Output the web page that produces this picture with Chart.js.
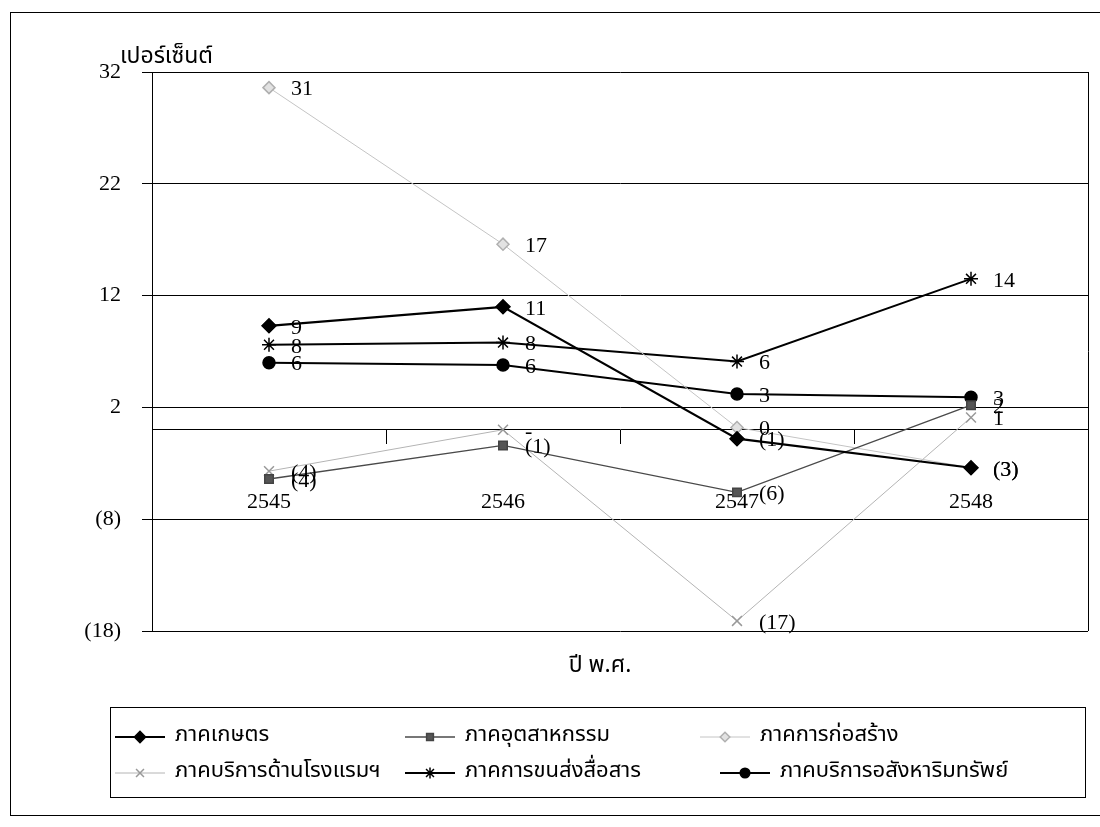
<!DOCTYPE html>
<html>
<head>
<meta charset="utf-8">
<script src="https://cdn.jsdelivr.net/npm/chart.js@4.4.0/dist/chart.umd.min.js"></script>
<style>
  html, body { margin: 0; padding: 0; background: #fff; }
  #wrap { width: 1100px; height: 827px; position: relative; }
</style>
</head>
<body>
<div id="wrap"><canvas id="growthChart" width="1100" height="827"></canvas></div>
<script>
// data
const years = ["2545", "2546", "2547", "2548"];
const agriculture = [9.3, 11.0, -0.8, -3.4];
const industry = [-4.4, -1.4, -5.6, 2.2];
const construction = [30.6, 16.6, 0.2, -3.4];
const hotels = [-3.7, 0, -17.1, 1.1];
const transport = [7.6, 7.8, 6.1, 13.5];
const realEstate = [6.0, 5.8, 3.2, 2.9];
const yTicks = [-18, -8, 2, 12, 22, 32];
const seriesNames = ["ภาคเกษตร", "ภาคอุตสาหกรรม", "ภาคการก่อสร้าง", "ภาคบริการด้านโรงแรมฯ", "ภาคการขนส่งสื่อสาร", "ภาคบริการอสังหาริมทรัพย์"];

const serif = "'Liberation Serif', 'Times New Roman', serif";
const thaiFont = "'Noto Sans Thai', 'Noto Serif Thai', 'Noto Sans', sans-serif";

// accounting style: negatives in brackets, exact zero as a dash
function fmt(v) {
  if (v === 0) return "-";
  const r = Math.round(v);
  return r < 0 ? "(" + (-r) + ")" : String(r);
}

// value labels next to each point
const valueLabels = {
  id: "valueLabels",
  afterDatasetsDraw(chart) {
    const ctx = chart.ctx;
    ctx.save();
    ctx.font = "22px " + serif;
    ctx.fillStyle = "#000";
    ctx.textAlign = "left";
    ctx.textBaseline = "middle";
    chart.data.datasets.forEach((ds, i) => {
      chart.getDatasetMeta(i).data.forEach((pt, j) => {
        ctx.fillText(fmt(ds.data[j]), pt.x + 22, pt.y + 2);
      });
    });
    ctx.restore();
  }
};

// frame, right border of plot, axis titles and the boxed legend
const decorations = {
  id: "decorations",
  afterDraw(chart) {
    const ctx = chart.ctx;
    const a = chart.chartArea;
    ctx.save();
    ctx.strokeStyle = "#000";
    ctx.lineWidth = 1;
    ctx.strokeRect(10.5, 12.5, 1100, 803);
    ctx.beginPath();
    ctx.moveTo(Math.round(a.right) + 0.5, a.top);
    ctx.lineTo(Math.round(a.right) + 0.5, a.bottom);
    ctx.stroke();

    ctx.fillStyle = "#000";
    ctx.font = "23px " + thaiFont;
    ctx.textAlign = "left";
    ctx.textBaseline = "alphabetic";
    ctx.fillText("เปอร์เซ็นต์", 120, 63);
    ctx.textAlign = "center";
    ctx.fillText("ปี พ.ศ.", 600, 672);

    // legend
    ctx.strokeRect(110.5, 707.5, 975, 90);
    const rows = [737, 773];
    const cols = [[115, 405, 700], [115, 405, 720]];
    ctx.font = "22px " + thaiFont;
    ctx.textAlign = "left";
    ctx.textBaseline = "middle";
    chart.data.datasets.forEach((ds, i) => {
      const r = Math.floor(i / 3), c = i % 3;
      const x = cols[r][c], y = rows[r];
      ctx.strokeStyle = ds.borderColor;
      ctx.lineWidth = ds.borderWidth;
      ctx.beginPath();
      ctx.moveTo(x, y);
      ctx.lineTo(x + 50, y);
      ctx.stroke();
      ctx.fillStyle = ds.pointBackgroundColor;
      ctx.strokeStyle = ds.pointBorderColor;
      ctx.lineWidth = ds.pointBorderWidth;
      Chart.helpers.drawPoint(ctx, {
        pointStyle: ds.pointStyle, radius: ds.pointRadius * 0.8, rotation: 0, borderWidth: ds.pointBorderWidth
      }, x + 25, y);
      ctx.fillStyle = "#000";
      ctx.fillText(ds.label, x + 60, y);
    });
    ctx.restore();
  }
};

function series(label, data, color, width, style, radius, fill, border) {
  return {
    label: label,
    data: data,
    borderColor: color,
    borderWidth: width,
    pointStyle: style,
    pointRadius: radius,
    pointHoverRadius: radius,
    pointBackgroundColor: fill,
    pointBorderColor: border,
    pointBorderWidth: 1.5,
    tension: 0,
    fill: false
  };
}

new Chart(document.getElementById("growthChart"), {
  type: "line",
  data: {
    labels: years,
    datasets: [
      series(seriesNames[0], agriculture, "#000", 2.2, "rectRot", 7, "#000", "#000"),
      series(seriesNames[1], industry, "#4a4a4a", 1.4, "rect", 6, "#555", "#444"),
      series(seriesNames[2], construction, "#c4c4c4", 1, "rectRot", 6, "#e2e2e2", "#b0b0b0"),
      series(seriesNames[3], hotels, "#b4b4b4", 1, "crossRot", 7, "#999", "#999"),
      series(seriesNames[4], transport, "#000", 2, "star", 7, "#000", "#000"),
      series(seriesNames[5], realEstate, "#000", 2, "circle", 6, "#000", "#000")
    ]
  },
  options: {
    responsive: false,
    animation: false,
    layout: { padding: { left: 10, right: 12, top: 72, bottom: 196 } },
    plugins: {
      legend: { display: false },
      tooltip: { enabled: false }
    },
    scales: {
      x: {
        type: "category",
        position: { y: 0 },
        offset: true,
        grid: { offset: true, drawOnChartArea: false, drawTicks: true, tickLength: 14, color: "#000" },
        border: { display: true, color: "#000", width: 1 },
        ticks: { color: "#000", padding: 45, font: { family: serif, size: 22 } }
      },
      y: {
        min: -18,
        max: 32,
        afterBuildTicks: s => { s.ticks = yTicks.map(v => ({ value: v })); },
        afterFit: s => { s.width = 142; },
        grid: { color: "#000", lineWidth: 1, tickLength: 10 },
        border: { display: true, color: "#000", width: 1 },
        ticks: {
          color: "#000",
          padding: 21,
          font: { family: serif, size: 22 },
          callback: v => (v < 0 ? "(" + (-v) + ")" : String(v))
        }
      }
    }
  },
  plugins: [valueLabels, decorations]
});
</script>
</body>
</html>
